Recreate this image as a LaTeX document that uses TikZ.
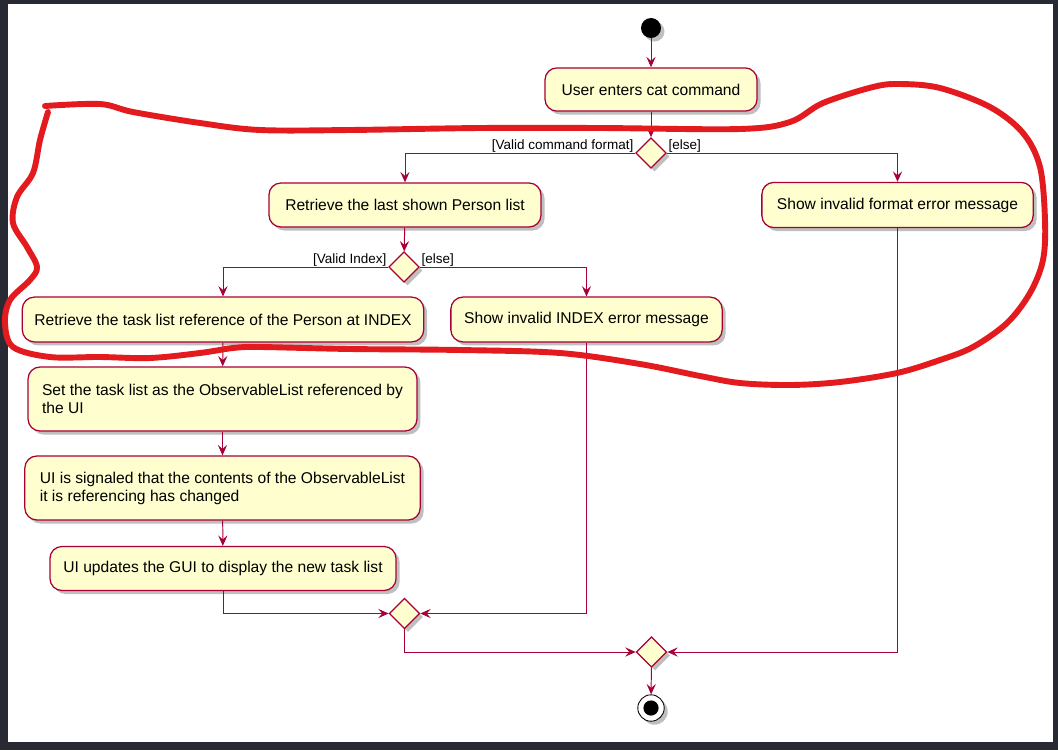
\documentclass[tikz,border=0pt]{standalone}
\usepackage{fontspec}
\setmainfont{Liberation Sans}
\usepackage{xcolor}
\usepackage{tikz}
\usetikzlibrary{positioning, arrows.meta, shapes.geometric, shadows}
\definecolor{actfill}{HTML}{FEFECE}
\definecolor{actline}{HTML}{A80036}
\definecolor{penred}{HTML}{E31B1F}
\definecolor{darkframe}{HTML}{272A33}

\begin{document}
\begin{tikzpicture}[x=0.025cm, y=-0.025cm,
    boxshadow/.style={drop shadow={shadow xshift=2.5pt, shadow yshift=-2.5pt, fill=black, opacity=0.25}},
    action/.style={draw=actline, fill=actfill, line width=0.9pt, rounded corners=0.3cm,
      inner xsep=0.3cm, font=\fontsize{11.1}{12.8}\selectfont, boxshadow},
    branch/.style={diamond, aspect=1, draw=actline, fill=actfill, line width=0.9pt,
      minimum size=0.76cm, inner sep=0pt, boxshadow},
    guard/.style={font=\fontsize{9.6}{11}\selectfont, inner xsep=1pt, inner ysep=0.2pt},
    flow/.style={draw=actline, line width=0.7pt, -{Stealth[length=2.6mm, width=2.3mm, inset=1mm]}}]
  \fill[darkframe] (0,0) rectangle (1058,750);
  \fill[white] (8,4) rectangle (1053,742);

  \node[circle, fill=black, minimum size=0.5cm, inner sep=0pt, boxshadow] (start) at (651,28) {};
  \node[action, minimum width=5.3cm, minimum height=1.08cm] (cmd) at (651,89.5) {User enters cat command};
  \node[branch] (fmt) at (651,153) {};
  \node[action, minimum width=6.8cm, minimum height=1.1cm] (lastlist) at (405,205) {Retrieve the last shown Person list};
  \node[action, minimum width=6.78cm, minimum height=1.13cm] (fmterr) at (897.5,205) {Show invalid format error message};
  \node[branch] (idx) at (404,267) {};
  \node[action, minimum width=10cm, minimum height=1.12cm] (taskref) at (223,319.5) {Retrieve the task list reference of the Person at INDEX};
  \node[action, minimum width=6.78cm, minimum height=1.12cm] (idxerr) at (586.5,319.5) {Show invalid INDEX error message};
  \node[action, align=left, minimum width=9.72cm, minimum height=1.6cm] (setlist) at (222.5,399)
    {Set the task list as the ObservableList referenced by\\the UI};
  \node[action, align=left, minimum width=9.88cm, minimum height=1.6cm] (signal) at (222.5,488)
    {UI is signaled that the contents of the ObservableList\\it is referencing has changed};
  \node[action, minimum width=8.65cm, minimum height=1.1cm] (gui) at (223,568.5) {UI updates the GUI to display the new task list};
  \node[branch] (merge1) at (404.5,613.5) {};
  \node[branch] (merge2) at (651.5,652) {};
  \node[circle, draw=black, fill=white, line width=0.6pt, minimum size=0.66cm, inner sep=0pt, boxshadow] (stop) at (651,708) {};
  \node[circle, fill=black, minimum size=0.38cm, inner sep=0pt] (stopdot) at (stop) {};

  \node[guard, anchor=south east] (validfmt) at (fmt.west) {[Valid command format]};
  \node[guard, anchor=south west] (elsefmt) at (fmt.east) {[else]};
  \node[guard, anchor=south east] (valididx) at (idx.west) {[Valid Index]};
  \node[guard, anchor=south west] (elseidx) at (idx.east) {[else]};

  \draw[flow] (start) -- (cmd);
  \draw[flow] (cmd) -- (fmt);
  \draw[flow] (fmt.west) -| (lastlist.north);
  \draw[flow] (fmt.east) -| (fmterr.north);
  \draw[flow] (lastlist) -- (idx);
  \draw[flow] (idx.west) -| (taskref.north);
  \draw[flow] (idx.east) -| (idxerr.north);
  \draw[flow] (taskref) -- (setlist);
  \draw[flow] (setlist) -- (signal);
  \draw[flow] (signal) -- (gui);
  \draw[flow] (gui.south) |- (merge1.west);
  \draw[flow] (idxerr.south) |- (merge1.east);
  \draw[flow] (merge1.south) |- (merge2.west);
  \draw[flow] (fmterr.south) |- (merge2.east);
  \draw[flow] (merge2) -- (stop);

  \draw[penred, line width=4.2pt, line cap=round, line join=round]
    plot[smooth, tension=0.55] coordinates {
      (45,106) (100,104) (133,112) (200,123) (260,130) (350,130) (480,128) (600,128)
      (740,129) (790,122) (823,103) (873,87) (900,84) (940,88) (990,107) (1023,133)
      (1040,167) (1045,220) (1043,260) (1030,293) (1007,323) (973,347) (940,360)
      (897,373) (840,382) (790,385) (740,383) (700,376) (640,364) (560,353) (460,350)
      (350,349) (260,347) (233,348) (200,353) (150,358) (100,357) (50,357) (13,347)
      (5,323) (10,300) (30,280) (37,267) (27,247) (13,223) (17,197) (33,173) (40,140)
      (48,112)};
\end{tikzpicture}
\end{document}
